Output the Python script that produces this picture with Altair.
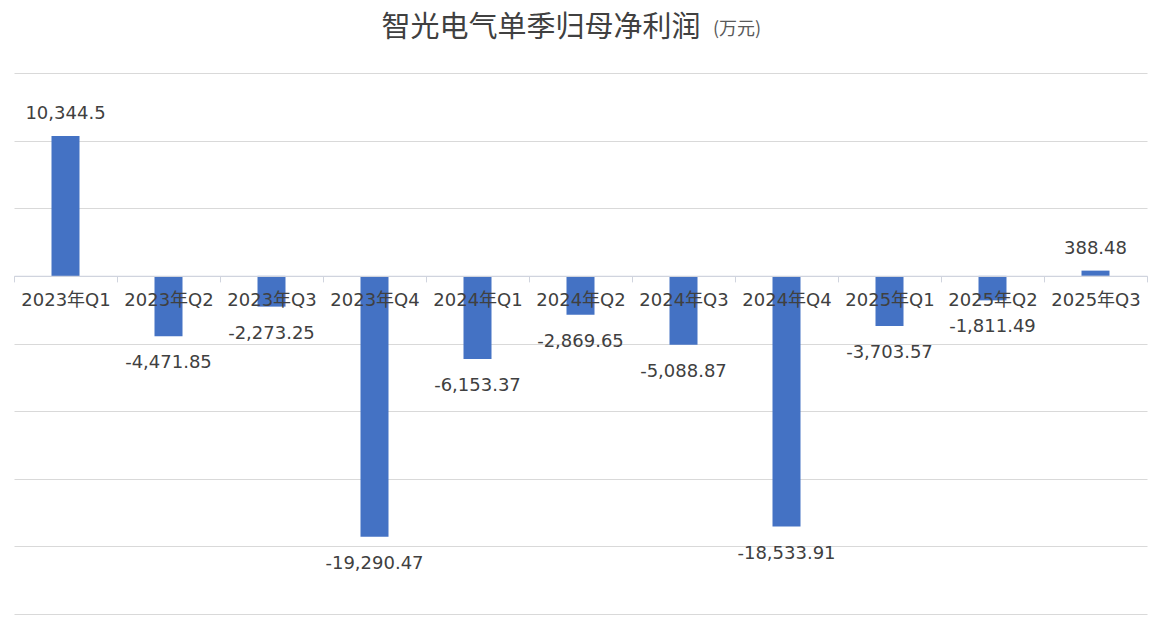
import altair as alt
import pandas as pd

categories = ["2023年Q1", "2023年Q2", "2023年Q3", "2023年Q4", "2024年Q1", "2024年Q2",
              "2024年Q3", "2024年Q4", "2025年Q1", "2025年Q2", "2025年Q3"]
values = [10344.5, -4471.85, -2273.25, -19290.47, -6153.37, -2869.65,
          -5088.87, -18533.91, -3703.57, -1811.49, 388.48]
title_text = "智光电气单季归母净利润"
unit_text = "(万元)"
grid_values = [-25000, -20000, -15000, -10000, -5000, 0, 5000, 10000, 15000]


def fmt(v):
    s = f"{v:,.2f}"
    if "." in s:
        s = s.rstrip("0").rstrip(".")
    return s


df = pd.DataFrame({
    "cat": categories,
    "val": values,
    "label": [fmt(v) for v in values],
    "pos": [v >= 0 for v in values],
})

W, H = 1133, 541
FONT = "DejaVu Sans, Noto Sans CJK SC"
CJK = "Noto Sans CJK SC"
BLUE = "#4472C4"
TXT = "#404040"

x = alt.X("cat:N", sort=categories, title=None,
          scale=alt.Scale(paddingInner=0, paddingOuter=0),
          axis=alt.Axis(orient="bottom", offset=-(H * 25000 / 40000), labelAngle=0,
                        tickBand="extent", tickSize=6, tickColor="#d0d4de",
                        domainColor="#d0d4de", domainWidth=1.2, labelPadding=10,
                        labelFont=FONT, labelFontSize=18, labelColor=TXT,
                        grid=False, zindex=1))
y = alt.Y("val:Q", title=None,
          scale=alt.Scale(domain=[-25000, 15000], nice=False),
          axis=alt.Axis(values=grid_values, labels=False, ticks=False, domain=False,
                        gridColor="#d9d9d9", gridWidth=1.2))

bars = alt.Chart(df).mark_bar(size=28, color=BLUE).encode(x=x, y=y)

pos_labels = alt.Chart(df).transform_filter("datum.pos").mark_text(
    baseline="middle", dy=-22, font=FONT, fontSize=18, color=TXT
).encode(x=alt.X("cat:N", sort=categories), y="val:Q", text="label:N")

neg_labels = alt.Chart(df).transform_filter("!datum.pos").mark_text(
    baseline="middle", dy=27, font=FONT, fontSize=18, color=TXT
).encode(x=alt.X("cat:N", sort=categories), y="val:Q", text="label:N")

title = alt.Chart(pd.DataFrame({"t": [title_text]})).mark_text(
    font=CJK, fontSize=29, color=TXT, align="center", baseline="middle"
).encode(x=alt.value(527), y=alt.value(-45), text="t:N")

unit = alt.Chart(pd.DataFrame({"t": [unit_text]})).mark_text(
    font=CJK, fontSize=18, color="#595959", align="left", baseline="middle"
).encode(x=alt.value(699), y=alt.value(-43), text="t:N")

chart = alt.layer(bars, pos_labels, neg_labels, title, unit).properties(
    width=W, height=H,
    background="white",
    padding={"left": 6, "top": 65, "right": 6, "bottom": 8},
    autosize=alt.AutoSizeParams(type="none"),
).configure_view(strokeWidth=0)

chart.save("out.html", embed_options={"renderer": "svg", "actions": False})
